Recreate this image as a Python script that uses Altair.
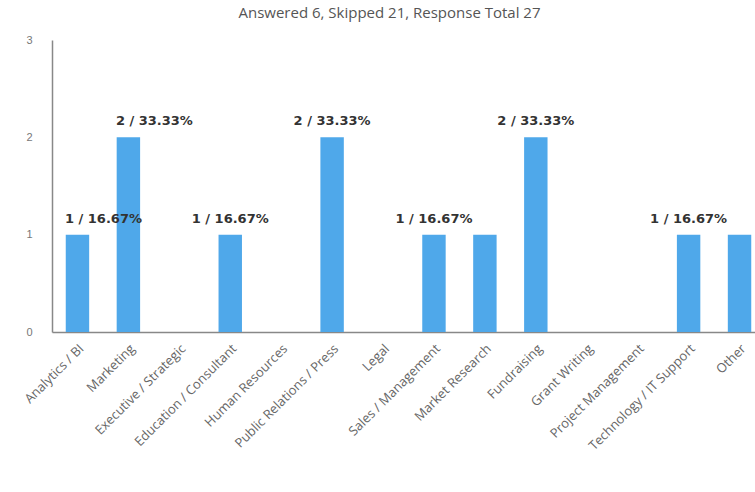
import altair as alt
import pandas as pd

categories = [
    "Analytics / BI",
    "Marketing",
    "Executive / Strategic",
    "Education / Consultant",
    "Human Resources",
    "Public Relations / Press",
    "Legal",
    "Sales / Management",
    "Market Research",
    "Fundraising",
    "Grant Writing",
    "Project Management",
    "Technology / IT Support",
    "Other",
]
counts = [1, 2, 0, 1, 0, 2, 0, 1, 1, 2, 0, 0, 1, 1]
show_label = [1, 1, 0, 1, 0, 1, 0, 1, 0, 1, 0, 0, 1, 0]
shifted_label = [1, 1, 0, 0, 0, 0, 0, 0, 0, 0, 0, 0, 0, 0]
answered = 6

df = pd.DataFrame({"category": categories, "count": counts,
                   "show": show_label, "shift": shifted_label})
df["label"] = [f"{c} / {c / answered * 100:.2f}%" for c in counts]

x = alt.X(
    "category:N",
    sort=categories,
    title=None,
    scale=alt.Scale(paddingInner=0.54, paddingOuter=0.27, range=[0, 713]),
    axis=alt.Axis(
        labelAngle=-45,
        labelFontSize=13,
        labelColor="#666666",
        labelFont="Open Sans",
        tickSize=0,
        labelPadding=10,
        domainColor="#888888",
        domainWidth=1.5,
    ),
)
y = alt.Y(
    "count:Q",
    title=None,
    scale=alt.Scale(domain=[0, 3]),
    axis=alt.Axis(
        values=[0, 1, 2, 3],
        format="d",
        grid=False,
        tickSize=0,
        labelPadding=20,
        labelFontSize=11,
        labelColor="#777777",
        domainColor="#888888",
        domainWidth=1.5,
    ),
)

base = alt.Chart(df)
bars = base.mark_bar(color="#4fa8ea").encode(x=x, y=y)
text_x = alt.X("category:N", sort=categories)
text_main = (
    base.transform_filter("datum.show == 1 && datum.shift == 0")
    .mark_text(dy=-16, fontSize=13, fontWeight="bold", color="#333333", font="DejaVu Sans")
    .encode(x=text_x, y="count:Q", text="label:N")
)
text_shift = (
    base.transform_filter("datum.show == 1 && datum.shift == 1")
    .mark_text(dx=26, dy=-16, fontSize=13, fontWeight="bold", color="#333333", font="DejaVu Sans")
    .encode(x=text_x, y="count:Q", text="label:N")
)

chart = (
    alt.layer(bars, text_main, text_shift)
    .properties(
        width=703,
        height=292,
        autosize=alt.AutoSizeParams(type="none"),
        padding={"left": 52, "top": 40, "right": 0, "bottom": 160},
        title=alt.TitleParams(
            "Answered 6, Skipped 21, Response Total 27",
            fontSize=15,
            font="Open Sans",
            fontWeight="normal",
            color="#555555",
            offset=13,
            dx=-14,
        ),
    )
    .configure_view(stroke=None)
)

chart.save("out.html", embed_options={"renderer": "svg", "actions": False})
